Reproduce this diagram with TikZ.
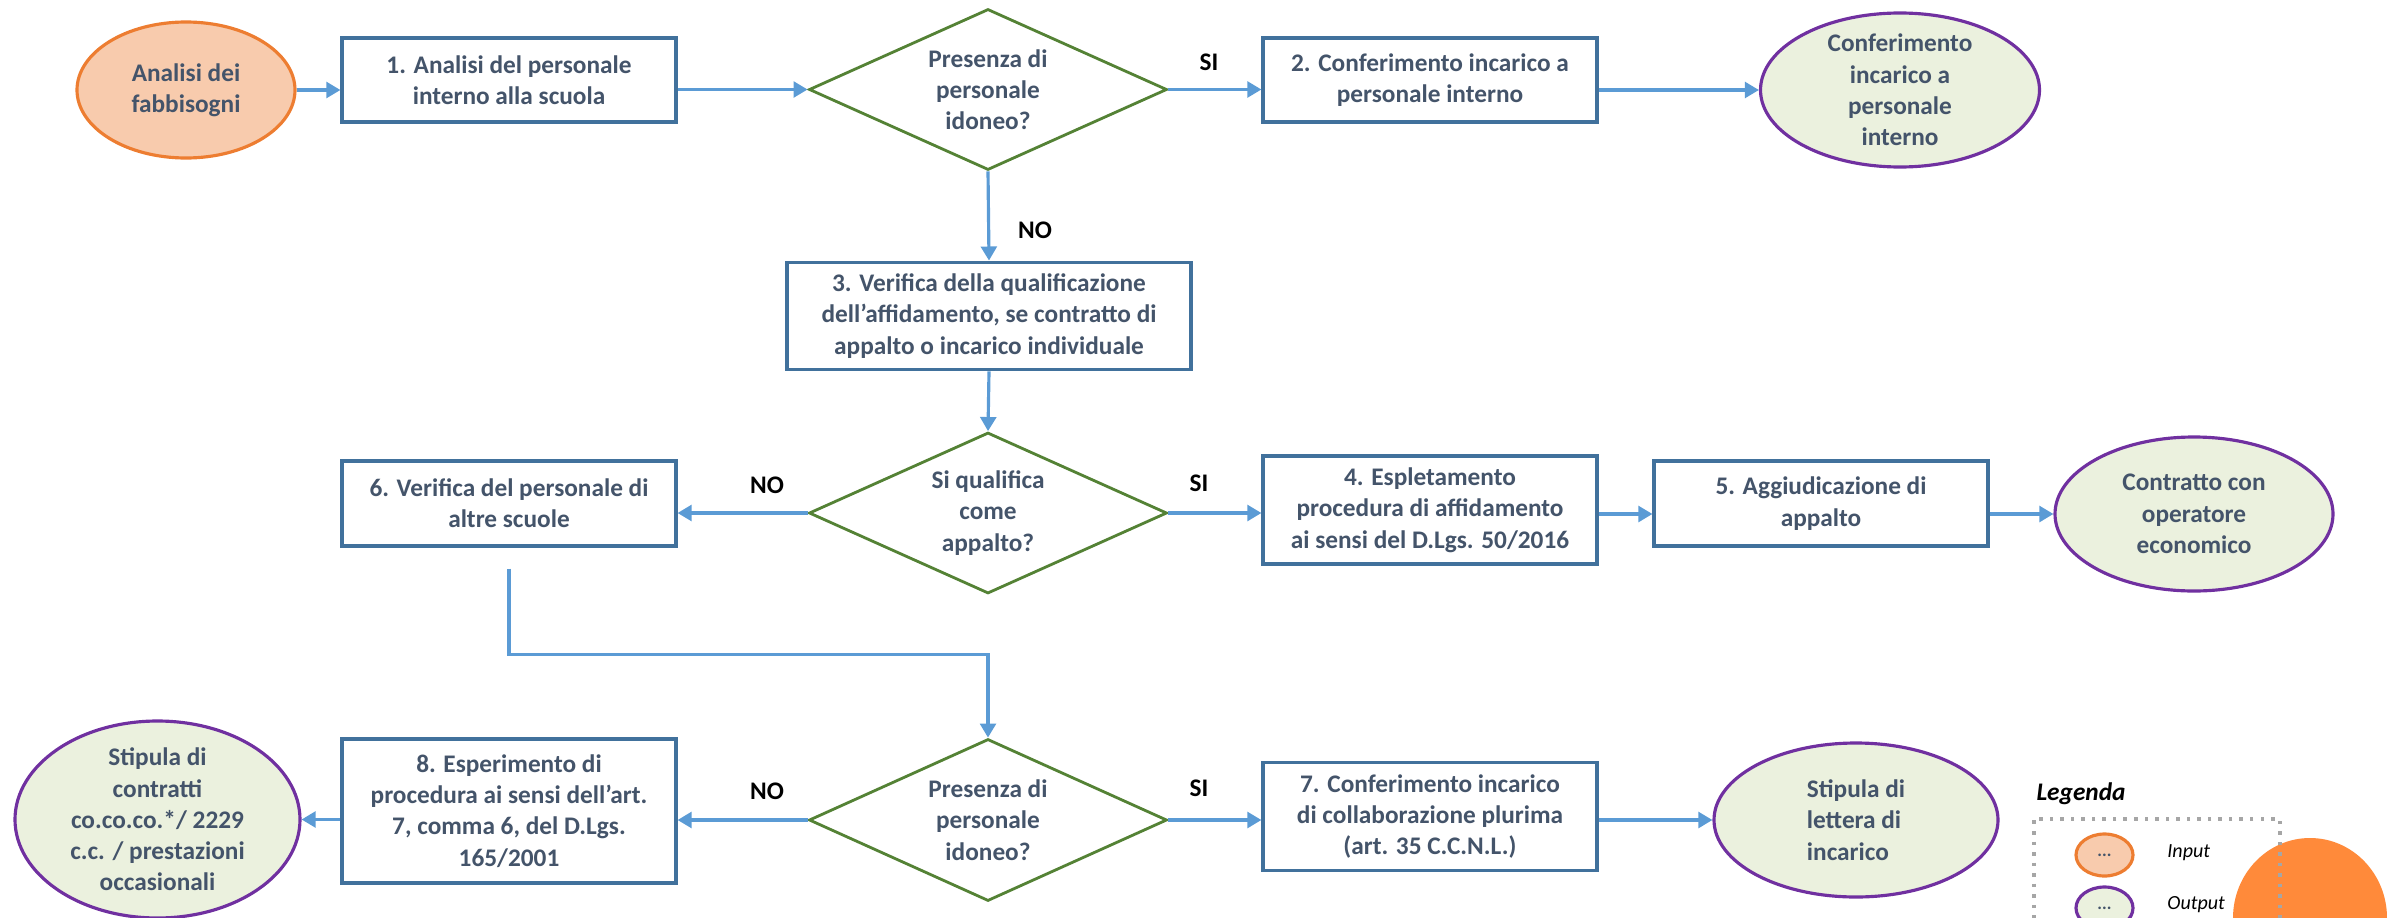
\documentclass[tikz,border=0pt]{standalone}
\usepackage{fontspec}
\setmainfont{Carlito}
\usepackage{xcolor}
\usepackage{tikz}
\usetikzlibrary{shapes.geometric,arrows.meta}

\definecolor{boxblue}{HTML}{41719C}
\definecolor{txtgray}{HTML}{44546A}
\definecolor{decgreen}{HTML}{548235}
\definecolor{arrblue}{HTML}{5B9BD5}
\definecolor{inpfill}{HTML}{F8CBAD}
\definecolor{inpdraw}{HTML}{ED7D31}
\definecolor{outfill}{HTML}{EBF1DE}
\definecolor{outdraw}{HTML}{7030A0}
\definecolor{blob}{HTML}{FF8A3A}

\begin{document}
\begin{tikzpicture}[
    every node/.style={font=\bfseries\fontsize{7.2}{8.9}\selectfont, text=txtgray, align=center},
    box/.style={draw=boxblue, line width=0.9pt, fill=white, minimum width=3.34cm},
    decision/.style={diamond, draw=decgreen, line width=0.8pt, aspect=2.2, inner sep=0pt, minimum width=3.58cm, minimum height=1.61cm},
    inp/.style={ellipse, draw=inpdraw, line width=0.9pt, fill=inpfill, inner sep=0pt},
    outp/.style={ellipse, draw=outdraw, line width=0.9pt, fill=outfill, inner xsep=0pt, inner ysep=-0.1cm},
    conn/.style={draw=arrblue, line width=0.9pt, -{Triangle[length=4pt,width=4.5pt]}},
    lbl/.style={text=black},
]
    \useasboundingbox (0,0) rectangle (23.87,-9.18);
    \clip (0,0) rectangle (23.87,-9.18);

    % first row
    \node[inp, minimum width=2.18cm, minimum height=1.36cm] (needs) at (1.86,-0.90) {Analisi dei\\fabbisogni};
    \node[box, minimum height=0.84cm] (staff) at (5.09,-0.80) {1. Analisi del personale\\interno alla scuola};
    \node[decision] (q1) at (9.88,-0.895) {Presenza di\\personale\\idoneo?};
    \node[box, minimum height=0.84cm] (intern) at (14.30,-0.80) {2. Conferimento incarico a\\personale interno};
    \node[outp, minimum width=2.79cm, minimum height=1.54cm] (res1) at (19.00,-0.90) {Conferimento\\incarico a\\personale\\interno};
    \node[lbl] (si1) at (12.09,-0.62) {SI};
    \node[lbl] (no1) at (10.35,-2.30) {NO};

    % qualificazione
    \node[box, minimum width=4.04cm, minimum height=1.00cm] (check) at (9.89,-3.16) {3. Verifica della qualificazione\\dell’affidamento, se contratto di\\appalto o incarico individuale};

    % second row
    \node[decision] (q2) at (9.88,-5.13) {Si qualifica\\come\\appalto?};
    \node[box, minimum height=0.85cm] (other) at (5.09,-5.035) {6. Verifica del personale di\\altre scuole};
    \node[box, minimum height=1.02cm] (tender) at (14.30,-5.10) {4. Espletamento\\procedura di affidamento\\ai sensi del D.Lgs. 50/2016};
    \node[box, minimum height=0.85cm] (award) at (18.21,-5.035) {5. Aggiudicazione di\\appalto};
    \node[outp, minimum width=2.78cm, minimum height=1.54cm] (res2) at (21.94,-5.14) {Contratto con\\operatore\\economico};
    \node[lbl] (no2) at (7.67,-4.85) {NO};
    \node[lbl] (si2) at (11.99,-4.83) {SI};

    % third row
    \node[decision, minimum height=1.62cm] (q3) at (9.88,-8.20) {Presenza di\\personale\\idoneo?};
    \node[box, minimum height=1.44cm] (extern) at (5.09,-8.11) {8. Esperimento di\\procedura ai sensi dell'art.\\7, comma 6, del D.Lgs.\\165/2001};
    \node[outp, minimum width=2.85cm, minimum height=1.97cm] (res3) at (1.575,-8.195) {Stipula di\\contratti\\co.co.co.*/ 2229\\c.c. / prestazioni\\occasionali};
    \node[box, minimum height=1.01cm] (plural) at (14.30,-8.165) {7. Conferimento incarico\\di collaborazione plurima\\(art. 35 C.C.N.L.)};
    \node[outp, minimum width=2.84cm, minimum height=1.54cm, align=left] (res4) at (18.56,-8.20) {Stipula di\\lettera di\\incarico};
    \node[lbl] (no3) at (7.67,-7.91) {NO};
    \node[lbl] (si3) at (11.99,-7.88) {SI};

    % legenda
    \fill[blob] (23.10,-9.18) ellipse [x radius=0.77cm, y radius=0.80cm];
    \node[lbl, font=\bfseries\itshape\fontsize{7.2}{8.9}\selectfont] (legtitle) at (20.81,-7.94) {Legenda};
    \node[draw=black!35, dotted, line width=1pt, minimum width=2.46cm, minimum height=1.6cm, anchor=north west] (legframe) at (20.32,-8.17) {};
    \node[inp, minimum width=0.57cm, minimum height=0.42cm, font=\bfseries\fontsize{5}{6}\selectfont] (legin) at (21.045,-8.55) {...};
    \node[outp, minimum width=0.57cm, minimum height=0.42cm, inner ysep=0pt, font=\bfseries\fontsize{5}{6}\selectfont] (legout) at (21.045,-9.08) {...};
    \node[lbl, anchor=west, font=\itshape\fontsize{5.7}{7}\selectfont] (legintxt) at (21.55,-8.53) {Input};
    \node[lbl, anchor=west, font=\itshape\fontsize{5.7}{7}\selectfont] (legouttxt) at (21.55,-9.05) {Output};

    % connectors
    \draw[conn] (needs.east) -- (needs.east -| staff.west);
    \draw[conn] (staff.east |- q1.west) -- (q1.west);
    \draw[conn] (q1.east) -- (q1.east -| intern.west);
    \draw[conn] (intern.east |- res1.west) -- (res1.west);
    \draw[conn] (q1.south) -- (check.north);
    \draw[conn] (check.south) -- (q2.north);
    \draw[conn] (q2.west) -- (q2.west -| other.east);
    \draw[conn] (q2.east) -- (q2.east -| tender.west);
    \draw[conn] (tender.east |- res2.west) -- (award.west |- res2.west);
    \draw[conn] (award.east |- res2.west) -- (res2.west);
    \draw[conn, shorten <=0.21cm] (other.south) -- ++(0,-1.07) -| (q3.north);
    \draw[conn] (q3.west) -- (q3.west -| extern.east);
    \draw[conn] (extern.west |- res3.east) -- (res3.east);
    \draw[conn] (q3.east) -- (q3.east -| plural.west);
    \draw[conn] (plural.east |- res4.west) -- (res4.west);
\end{tikzpicture}
\end{document}
